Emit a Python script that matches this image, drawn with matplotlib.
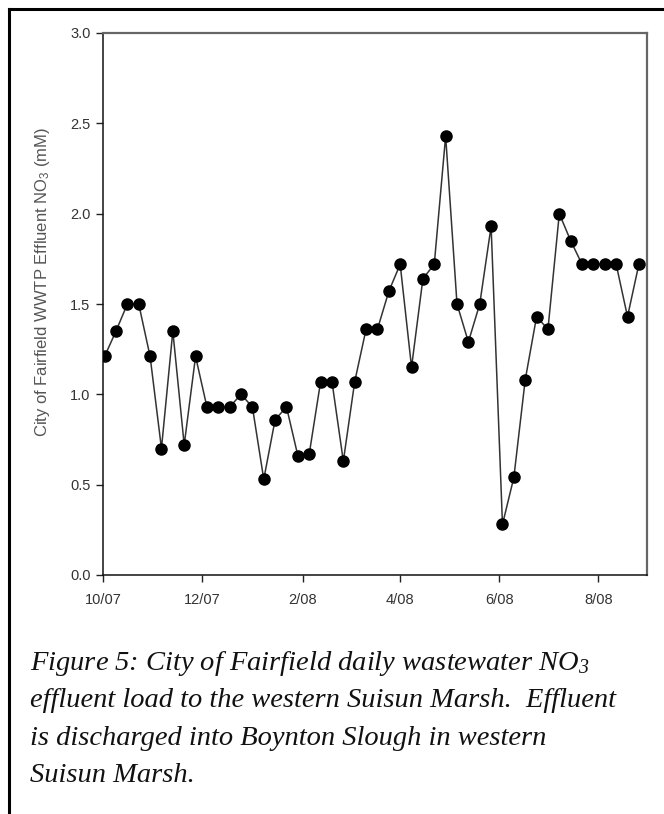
import numpy as np
import pandas as pd
import matplotlib
matplotlib.use("Agg")
import matplotlib.pyplot as plt
import matplotlib.dates as mdates
from matplotlib.lines import Line2D
from matplotlib.ticker import FuncFormatter

plt.rcParams['mathtext.default'] = 'regular'

### data (weekly samples) ###
dates = ["2007-10-02", "2007-10-09", "2007-10-16", "2007-10-23", "2007-10-30",
         "2007-11-06", "2007-11-13", "2007-11-20", "2007-11-27", "2007-12-04",
         "2007-12-11", "2007-12-18", "2007-12-25", "2008-01-01", "2008-01-08",
         "2008-01-15", "2008-01-22", "2008-01-29", "2008-02-05", "2008-02-12",
         "2008-02-19", "2008-02-26", "2008-03-04", "2008-03-11", "2008-03-18",
         "2008-03-25", "2008-04-01", "2008-04-08", "2008-04-15", "2008-04-22",
         "2008-04-29", "2008-05-06", "2008-05-13", "2008-05-20", "2008-05-27",
         "2008-06-03", "2008-06-10", "2008-06-17", "2008-06-24", "2008-07-01",
         "2008-07-08", "2008-07-15", "2008-07-22", "2008-07-29", "2008-08-05",
         "2008-08-12", "2008-08-19", "2008-08-26"]
no3 = [1.21, 1.35, 1.50, 1.50, 1.21, 0.70, 1.35, 0.72, 1.21, 0.93,
       0.93, 0.93, 1.00, 0.93, 0.53, 0.86, 0.93, 0.66, 0.67, 1.07,
       1.07, 0.63, 1.07, 1.36, 1.36, 1.57, 1.72, 1.15, 1.64, 1.72,
       2.43, 1.50, 1.29, 1.50, 1.93, 0.28, 0.54, 1.08, 1.43, 1.36,
       2.00, 1.85, 1.72, 1.72, 1.72, 1.72, 1.43, 1.72]
tick_dates = ["2007-10-01", "2007-12-01", "2008-02-01", "2008-04-01",
              "2008-06-01", "2008-08-01"]
caption = ["Figure 5: City of Fairfield daily wastewater NO$_3$",
           "effluent load to the western Suisun Marsh.  Effluent",
           "is discharged into Boynton Slough in western",
           "Suisun Marsh."]

x = pd.to_datetime(dates)

fig = plt.figure(figsize=(6.64, 8.14), dpi=100)
ax = fig.add_axes([103/664, 1 - 575/814, 544/664, 542/814])

ax.plot(x, no3, color='#333333', lw=1.1, marker='o', ms=8,
        mfc='black', mec='black', zorder=3)

ax.set_xlim(pd.Timestamp("2007-10-01"), pd.Timestamp("2008-08-31"))
ax.set_ylim(0, 3.0)
ax.set_yticks(np.arange(0, 3.01, 0.5))
ax.yaxis.set_major_formatter(FuncFormatter(lambda v, p: "%.1f" % v))
ax.set_xticks(pd.to_datetime(tick_dates))
ax.xaxis.set_major_formatter(FuncFormatter(
    lambda v, p: "%d/%s" % (mdates.num2date(v).month, mdates.num2date(v).strftime("%y"))))

ax.tick_params(direction='out', length=5, width=1, color='#222222',
               labelsize=10.5, labelcolor='#333333')
ax.tick_params(axis='x', pad=8)
ax.tick_params(axis='y', pad=4)
for lbl in ax.get_xticklabels() + ax.get_yticklabels():
    lbl.set_fontfamily('Liberation Sans')

for s in ['left', 'bottom']:
    ax.spines[s].set_color('#111111')
    ax.spines[s].set_linewidth(1.1)
for s in ['top', 'right']:
    ax.spines[s].set_color('#666666')
    ax.spines[s].set_linewidth(1.6)

ax.set_ylabel("City of Fairfield WWTP Effluent NO$_3$ (mM)", fontsize=12,
              color='#555555', family='Liberation Sans')
ax.yaxis.set_label_coords((52 - 103) / 544, 0.54)

# caption lines
base = [670, 707, 745, 782]
for line, yb in zip(caption, base):
    fig.text(30/664, 1 - yb/814, line, fontsize=20.5, style='italic',
             family='Liberation Serif', color='#111111', va='baseline', ha='left')

# partial frame around the figure (left and top edges)
fig.add_artist(Line2D([9/664, 9/664], [0, 1 - 9/814], transform=fig.transFigure,
                      color='black', lw=2.2))
fig.add_artist(Line2D([9/664, 1], [1 - 9/814, 1 - 9/814], transform=fig.transFigure,
                      color='black', lw=2.2))

fig.savefig("out.png", dpi=100)
